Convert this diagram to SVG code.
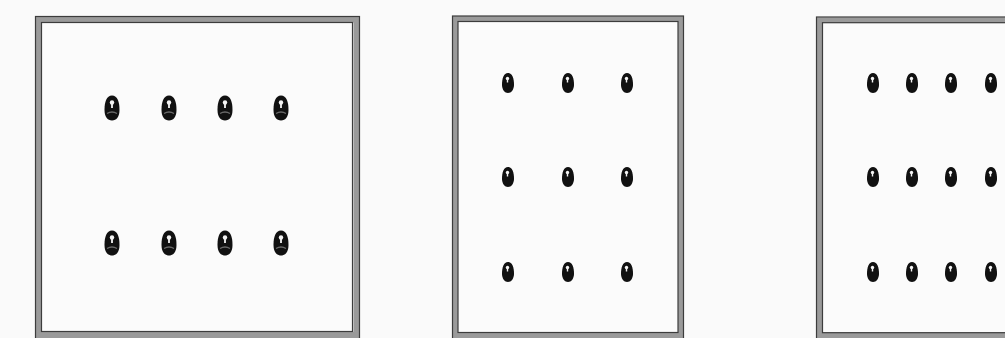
<svg xmlns="http://www.w3.org/2000/svg" width="1005" height="338" viewBox="0 0 1005 338">
<style>
.bg{fill:#fafafa}
.band{fill:none;stroke:#9a9a9a}
.edge{fill:none;stroke:#3c3c3c;stroke-width:1.2}
.inner{fill:#fbfbfb}
</style>
<defs>
<g id="dotL">
<path d="M0,-12.5 C5.5,-12.5 7.5,-6 7.5,2 C7.5,8.5 4.5,12.5 0,12.5 C-4.5,12.5 -7.5,8.5 -7.5,2 C-7.5,-6 -5.5,-12.5 0,-12.5 Z" fill="#111"/>
<path d="M-5,5.5 Q0,2.5 5,5.5" fill="none" stroke="#6a6a6a" stroke-width="1.3"/>
<circle cx="0" cy="-5.5" r="2.2" fill="#f4f4f4"/>
<rect x="-0.9" y="-5.5" width="1.8" height="5.5" fill="#f4f4f4"/>
</g>
<g id="dotS">
<path d="M0,-10 C4.3,-10 6,-4.5 6,1.5 C6,6.8 3.3,10 0,10 C-3.3,10 -6,6.8 -6,1.5 C-6,-4.5 -4.3,-10 0,-10 Z" fill="#111"/>
<circle cx="-0.5" cy="-4.5" r="1.7" fill="#f4f4f4"/>
<rect x="-1.2" y="-4.5" width="1.4" height="4" fill="#f4f4f4"/>
</g>
</defs>
<rect class="bg" x="0" y="0" width="1005" height="338"/>

<g id="panel1">
<rect class="inner" x="38" y="19" width="318" height="316"/>
<rect class="band" x="38.25" y="19.25" width="318.5" height="315.75" stroke-width="6.5"/>
<rect class="edge" x="35.5" y="16.5" width="324" height="340"/>
<rect class="edge" x="41.5" y="22.5" width="311" height="309"/>
<use href="#dotL" x="112" y="108"/>
<use href="#dotL" x="169" y="108"/>
<use href="#dotL" x="225" y="108"/>
<use href="#dotL" x="281" y="108"/>
<use href="#dotL" x="112" y="243"/>
<use href="#dotL" x="169" y="243"/>
<use href="#dotL" x="225" y="243"/>
<use href="#dotL" x="281" y="243"/>
</g>

<g id="panel2">
<rect class="inner" x="455" y="18" width="226" height="317"/>
<rect class="band" x="455.25" y="18.75" width="225.5" height="316.5" stroke-width="5.5"/>
<rect class="edge" x="452.5" y="16" width="231" height="340"/>
<rect class="edge" x="458" y="21.5" width="220" height="311"/>
<use href="#dotS" x="508" y="83"/>
<use href="#dotS" x="568" y="83"/>
<use href="#dotS" x="627" y="83"/>
<use href="#dotS" x="508" y="177"/>
<use href="#dotS" x="568" y="177"/>
<use href="#dotS" x="627" y="177"/>
<use href="#dotS" x="508" y="272"/>
<use href="#dotS" x="568" y="272"/>
<use href="#dotS" x="627" y="272"/>
</g>

<g id="panel3">
<rect class="inner" x="819" y="19" width="200" height="316"/>
<rect class="band" x="819.5" y="20" width="220" height="315.25" stroke-width="5.5"/>
<rect class="edge" x="816.5" y="17" width="240" height="340"/>
<rect class="edge" x="822.5" y="22.7" width="230" height="310"/>
<use href="#dotS" x="873" y="83"/>
<use href="#dotS" x="912" y="83"/>
<use href="#dotS" x="951" y="83"/>
<use href="#dotS" x="991" y="83"/>
<use href="#dotS" x="873" y="177"/>
<use href="#dotS" x="912" y="177"/>
<use href="#dotS" x="951" y="177"/>
<use href="#dotS" x="991" y="177"/>
<use href="#dotS" x="873" y="272"/>
<use href="#dotS" x="912" y="272"/>
<use href="#dotS" x="951" y="272"/>
<use href="#dotS" x="991" y="272"/>
</g>
</svg>
